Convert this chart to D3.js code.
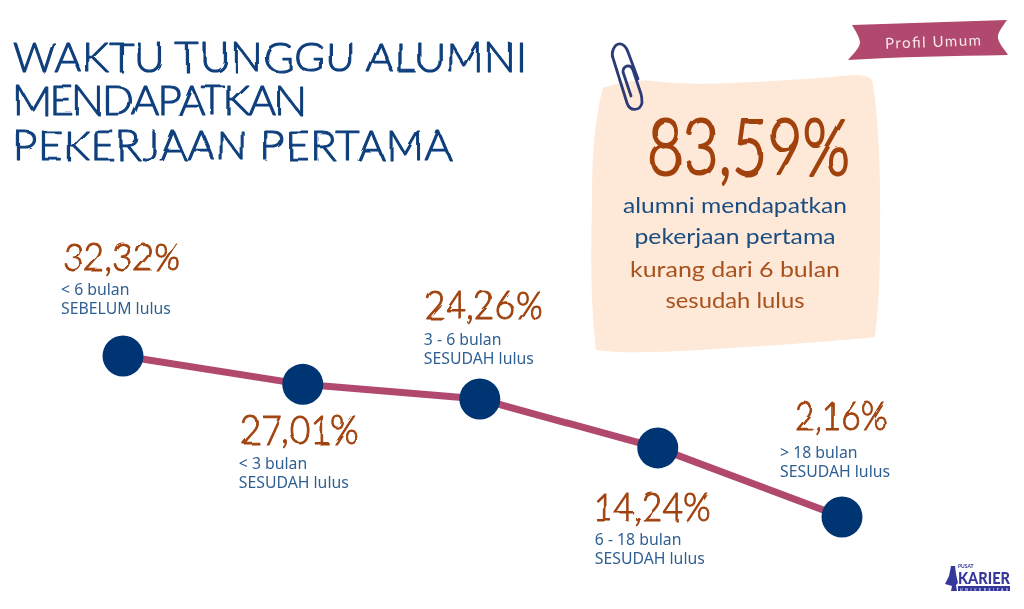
<!DOCTYPE html>
<html><head><meta charset="utf-8">
<script src="https://cdn.jsdelivr.net/npm/d3@7"></script>
<style>html,body{margin:0;padding:0;background:#fff;overflow:hidden}svg{display:block}</style>
</head><body><div id="c"></div>
<script>
const categories = ["< 6 bulan|SEBELUM lulus","< 3 bulan|SESUDAH lulus","3 - 6 bulan|SESUDAH lulus","6 - 18 bulan|SESUDAH lulus","> 18 bulan|SESUDAH lulus"];
const valueLabels = ["32,32%","27,01%","24,26%","14,24%","2,16%"];
const values = [32.32,27.01,24.26,15.1,2.16];
const order = [0,1,1.985,2.975,4];
const titleLines = ["WAKTU TUNGGU ALUMNI","MENDAPATKAN","PEKERJAAN PERTAMA"];
const noteLines = ["alumni mendapatkan","pekerjaan pertama","kurang dari 6 bulan","sesudah lulus"];

const svg = d3.select("#c").append("svg").attr("width",1024).attr("height",609);
const defs = svg.append("defs");
const f = defs.append("filter").attr("id","hand").attr("x","-5%").attr("y","-10%").attr("width","110%").attr("height","120%");
f.append("feTurbulence").attr("type","fractalNoise").attr("baseFrequency",0.035).attr("numOctaves",1).attr("seed",7).attr("result","n");
f.append("feDisplacementMap").attr("in","SourceGraphic").attr("in2","n").attr("scale",5).attr("result","d");
f.append("feGaussianBlur").attr("in","d").attr("stdDeviation",0.4);
const soft = defs.append("filter").attr("id","soft");
soft.append("feGaussianBlur").attr("stdDeviation",0.35);

const x = d3.scaleLinear().domain([0,4]).range([123,842]);
const y = d3.scaleLinear().domain([2.16,32.32]).range([517,356]);
const blue="#003473", pink="#b04a6d", brown="#a1430f", note="#fee8d8";
const hand = "'Lato'";
const root = svg.append("g").attr("filter","url(#soft)");

// title
root.append("g").attr("filter","url(#hand)").selectAll("text").data(titleLines).join("text")
 .attr("x",13).attr("y",(d,i)=>[72,115,160][i]).attr("fill","#0b3f7c").attr("stroke","#0b3f7c").attr("stroke-width",1.1).attr("stroke-linejoin","round")
 .attr("font-family",hand).attr("font-weight",300)
 .attr("font-size",42).attr("textLength",(d,i)=>[514,293,439][i]).attr("lengthAdjust","spacing").text(d=>d);

// note
root.append("path").attr("fill",note).attr("d","M603 88 C620 82 640 78 662 82 C700 86 760 82 820 78 C845 76 866 72 872 80 C878 110 881 170 880 230 C880 270 879 305 875 337 C830 342 760 346 700 350 C665 352 625 354 596 350 C590 300 591 250 592 200 C592 160 594 120 603 88Z");
root.append("g").attr("fill","none").attr("stroke","#2b3a76").attr("stroke-width",2.8).attr("stroke-linecap","round")
 .selectAll("path").data(["M638 79 L628 52 C624 41 616 42 613 50 C612 53 612 56 613 58 L627 103 C630 112 640 111 642 103 C642 100 642 97 641 94 L633 70 C630 63 623 66 623 72 L631 96"]).join("path").attr("d",d=>d);

root.append("text").attr("x",749).attr("y",175).attr("text-anchor","middle").attr("fill",brown).attr("font-family",hand).attr("filter","url(#hand)")
 .attr("font-size",78).attr("font-weight",300).attr("stroke",brown).attr("stroke-width",2.2).attr("stroke-linejoin","round").attr("textLength",202).attr("lengthAdjust","spacingAndGlyphs").text("83,59%");
root.append("g").selectAll("text").data(noteLines).join("text")
 .attr("x",735).attr("y",(d,i)=>[213,244,277,308][i]).attr("text-anchor","middle")
 .attr("fill",(d,i)=>i<2?"#1c4e80":"#a8521f").attr("font-family","Lato").attr("font-size",22).attr("font-weight",400)
 .attr("textLength",(d,i)=>[224,201,210,139][i]).attr("lengthAdjust","spacingAndGlyphs").text(d=>d);

// ribbon
root.append("path").attr("fill",pink).attr("d","M852 25 L1007 20 C1003 26 997 33 998 38 C999 44 1005 50 1008 55 C950 56 900 57 848 60 C853 54 860 48 860 42 C859 36 855 30 852 25Z");
root.append("text").attr("x",933).attr("y",47).attr("text-anchor","middle").attr("fill","#f8e6ec").attr("font-family",hand).attr("font-size",15)
 .attr("transform","rotate(-2 933 42)").attr("textLength",96).text("Profil Umum");

// line + dots
const pts = values.map((v,i)=>[x(order[i]),y(v)]);
root.append("path").attr("d",d3.line()(pts)).attr("fill","none").attr("stroke",pink).attr("stroke-width",7);
root.append("g").selectAll("circle").data(pts).join("circle").attr("cx",d=>d[0]).attr("cy",d=>d[1]).attr("r",20.5).attr("fill",blue);

// labels: [value x, value baseline, caption x, caption baseline] relative to point
const off = [[-60,-85,-62,-61],[-62,60,-64,85],[-55,-80,-56,-54],[-65,73,-63,97],[-47,-87,-62,-59]];
const g = root.append("g");
pts.forEach((p,i)=>{
  g.append("text").attr("x",p[0]+off[i][0]).attr("y",p[1]+off[i][1]).attr("fill",brown).attr("stroke",brown).attr("stroke-width",1).attr("font-family",hand).attr("font-weight",300).attr("filter","url(#hand)")
   .attr("font-size",40).attr("textLength",i==4?92:118).attr("lengthAdjust","spacingAndGlyphs").text(valueLabels[i]);
  categories[i].split("|").forEach((t,j)=>{
   g.append("text").attr("x",p[0]+off[i][2]).attr("y",p[1]+off[i][3]+j*19).attr("fill","#2f5f92").attr("font-family","'Noto Sans'").attr("font-size",15.8).text(t);
  });
});

// logo
const logoColor = "#34389a";
const l = root.append("g");
l.append("path").attr("fill",logoColor).attr("d","M951 566 L955 566 L956 574 L958 583 L956 585 L957 591 L951 591 L952 586 L945 584 L949 576Z");
l.append("text").attr("x",958).attr("y",568).attr("font-family","Lato").attr("font-size",5).attr("font-weight",700).attr("fill",logoColor).text("PUSAT");
l.append("text").attr("x",958).attr("y",584).attr("font-family","Lato").attr("font-size",16).attr("font-weight",900).attr("textLength",52).attr("lengthAdjust","spacingAndGlyphs").attr("fill",logoColor).text("KARIER");
l.append("rect").attr("x",958).attr("y",586).attr("width",52).attr("height",5).attr("fill",logoColor);
l.append("text").attr("x",960).attr("y",590.5).attr("font-family","Lato").attr("font-size",3.5).attr("font-weight",700).attr("textLength",48).attr("fill","#dfe0f4").text("UNIVERSITAS");
</script></body></html>
